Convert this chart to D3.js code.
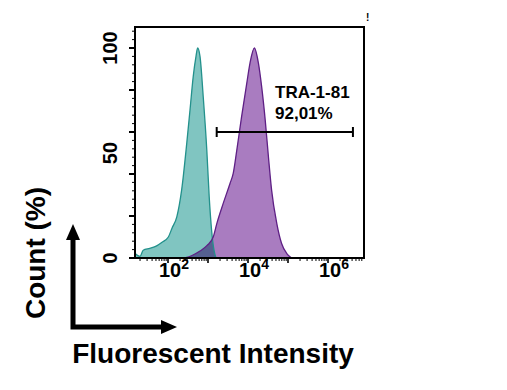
<!DOCTYPE html>
<html>
<head>
<meta charset="utf-8">
<script src="https://cdn.jsdelivr.net/npm/d3@7"></script>
<style>
  body { margin: 0; background: #fff; }
  text { font-family: "Liberation Sans", Arial, sans-serif; font-weight: bold; fill: #000; }
</style>
</head>
<body>
<div id="chart"></div>
<script>
// control (isotype) histogram: intensity vs count %
var ctrlIntensity = [15, 20, 24, 35, 52, 71, 102, 126, 166, 219, 295, 355, 427, 501, 550, 631, 759, 933, 1072, 1230, 1413, 1585];
var ctrlCount     = [2.1, 0.8, 3.7, 4.6, 5.8, 7.5, 10, 14.2, 19.6, 32.3, 54.8, 70.5, 86.4, 96, 100, 96, 76.9, 51.4, 29.1, 13.2, 3.7, 0];

// TRA-1-81 stained histogram
var traIntensity = [260, 398, 631, 950, 1350, 1660, 2400, 3550, 4270, 5250, 6920, 9330, 11220, 14450, 18200, 21900, 26900, 32400, 38900, 52500, 69200, 93300, 123000];
var traCount     = [0, 1.2, 3.3, 6, 10, 16.4, 26, 35.5, 40.3, 51.4, 67.3, 83.3, 92.8, 100, 92.8, 81.7, 65.8, 48.2, 32.3, 16.4, 6.9, 2.1, 0];

var gateRange = [1650, 4200000];
var gateLevel = 60;
var gateLabel = ["TRA-1-81", "92,01%"];

var xTickExp = [2, 4, 6];
var yTickLabels = [0, 50, 100];

var margin = {top: 27, right: 143, bottom: 132, left: 135},
    width = 507 - margin.left - margin.right,
    height = 390 - margin.top - margin.bottom;

var svg = d3.select("#chart").append("svg")
    .attr("width", 507)
    .attr("height", 390);

var g = svg.append("g")
    .attr("transform", "translate(" + margin.left + "," + margin.top + ")");

var x = d3.scaleLog()
    .domain([Math.pow(10, 1.175), Math.pow(10, 6.9)])
    .range([0, width]);

var y = d3.scaleLinear()
    .domain([0, 110])
    .range([height, 0]);

g.append("clipPath").attr("id", "clip")
  .append("rect").attr("width", width).attr("height", height);

function toPts(xs, ys) {
  return xs.map(function(d, i) { return [d, ys[i]]; });
}

var area = d3.area()
    .x(function(d) { return x(d[0]); })
    .y0(height)
    .y1(function(d) { return y(d[1]); })
    .curve(d3.curveMonotoneX);

var line = d3.line()
    .x(function(d) { return x(d[0]); })
    .y(function(d) { return y(d[1]); })
    .curve(d3.curveMonotoneX);

var plot = g.append("g").attr("clip-path", "url(#clip)");

plot.append("path")
    .datum(toPts(ctrlIntensity, ctrlCount))
    .attr("d", area)
    .attr("fill", "#80c5c1");

plot.append("path")
    .datum(toPts(traIntensity, traCount))
    .attr("d", area)
    .attr("fill", "#a97cc0")
    .style("mix-blend-mode", "multiply");

plot.append("path")
    .datum(toPts(ctrlIntensity, ctrlCount))
    .attr("d", line)
    .attr("fill", "none")
    .attr("stroke", "#23918c")
    .attr("stroke-width", 1.3);

plot.append("path")
    .datum(toPts(traIntensity, traCount))
    .attr("d", line)
    .attr("fill", "none")
    .attr("stroke", "#5e1f85")
    .attr("stroke-width", 1.3);

// y ticks (major every 20, minor every 4)
var yt = g.append("g");
d3.range(0, 110, 4).forEach(function(v) {
  var major = v % 20 == 0;
  yt.append("line")
    .attr("x1", major ? -6 : -3).attr("x2", 0)
    .attr("y1", y(v)).attr("y2", y(v))
    .attr("stroke", "#000").attr("stroke-width", major ? 2 : 1);
});
yTickLabels.forEach(function(v) {
  yt.append("text")
    .attr("transform", "translate(-18," + y(v) + ") rotate(-90)")
    .attr("text-anchor", "middle")
    .style("font-size", "20px")
    .text(v);
});

// x ticks, log decades
var xt = g.append("g").attr("transform", "translate(0," + height + ")");
x.ticks(60).forEach(function(v) {
  var e = Math.log10(v);
  var major = Math.abs(e - Math.round(e)) < 1e-9;
  xt.append("line")
    .attr("x1", x(v)).attr("x2", x(v))
    .attr("y1", 0).attr("y2", major ? 5 : 3)
    .attr("stroke", "#000").attr("stroke-width", major ? 1.6 : 1);
});
xTickExp.forEach(function(e) {
  var t = xt.append("text")
    .attr("x", x(Math.pow(10, e)) + 6)
    .attr("y", 19)
    .attr("text-anchor", "middle")
    .style("font-size", "20px");
  t.append("tspan").text("10");
  t.append("tspan").attr("dy", -8).style("font-size", "14px").text(e);
});

// frame
g.append("rect")
    .attr("width", width).attr("height", height)
    .attr("fill", "none")
    .attr("stroke", "#000").attr("stroke-width", 2);

// gate
var gate = g.append("g").attr("stroke", "#000").attr("stroke-width", 2);
gate.append("line")
    .attr("x1", x(gateRange[0])).attr("x2", x(gateRange[1]))
    .attr("y1", y(gateLevel)).attr("y2", y(gateLevel));
gateRange.forEach(function(v) {
  gate.append("line")
    .attr("x1", x(v)).attr("x2", x(v))
    .attr("y1", y(gateLevel) - 5).attr("y2", y(gateLevel) + 5);
});
gateLabel.forEach(function(s, i) {
  g.append("text")
    .attr("x", 140).attr("y", 71 + i * 21)
    .style("font-size", "17px")
    .text(s);
});

svg.append("text")
    .attr("x", 366).attr("y", 21)
    .style("font-size", "10px")
    .text("!");

// axis arrows
var arrows = svg.append("g");
arrows.append("path")
    .attr("d", "M73,329.5 L73,238 M70.5,327 L163,327")
    .attr("stroke", "#000").attr("stroke-width", 5).attr("fill", "none");
arrows.append("path")
    .attr("d", "M66,240 L73,224 L80,240 Z M161,320 L177,327 L161,334 Z")
    .attr("fill", "#000");

svg.append("text")
    .attr("transform", "translate(45,253) rotate(-90)")
    .attr("text-anchor", "middle")
    .style("font-size", "28px")
    .text("Count (%)");

svg.append("text")
    .attr("x", 213).attr("y", 363)
    .attr("text-anchor", "middle")
    .style("font-size", "28px")
    .text("Fluorescent Intensity");
</script>
</body>
</html>
